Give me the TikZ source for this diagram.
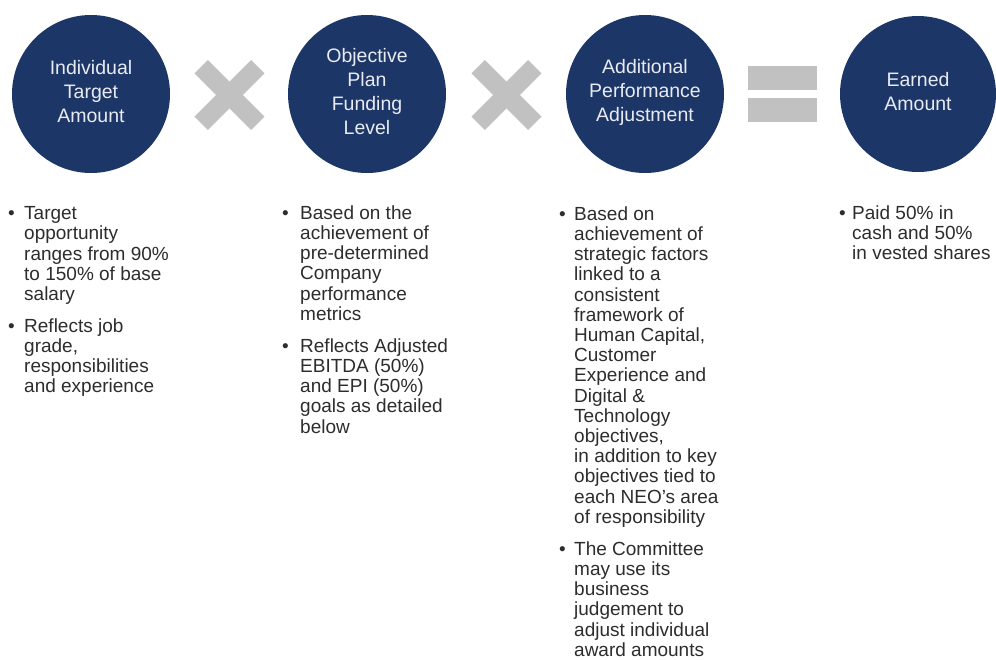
\documentclass[tikz,border=0pt]{standalone}
\usepackage{fontspec}
\setmainfont{Liberation Sans}
\definecolor{navy}{RGB}{29,54,104}
\definecolor{gry}{RGB}{193,193,193}
\definecolor{txt}{RGB}{45,45,45}
\definecolor{ctxt}{RGB}{232,235,241}
\newcommand{\tstrut}{\rule{0pt}{15pt}}
\begin{document}
\begin{tikzpicture}[x=1pt,y=-1pt,
  circ/.style={circle, fill=navy, minimum size=158pt, inner sep=0pt},
  ctext/.style={text=ctxt, font=\fontsize{19.5}{24}\selectfont, align=center, inner sep=0pt},
  body/.style={anchor=north west, inner sep=0pt, align=left, text=txt, font=\fontsize{19}{20.2}\selectfont},
  bul/.style={anchor=base west, inner sep=0pt, text=txt, font=\fontsize{19}{20.2}\selectfont},
  xbar/.style={line width=19pt, draw=gry},
  eqbar/.style={fill=gry}]
\useasboundingbox (0,0) rectangle (996,659);
\fill[white] (0,0) rectangle (996,659);

% circles
\node[circ] (c1) at (91,94) {};
\node[circ] (c2) at (367,94) {};
\node[circ] (c3) at (645,94) {};
\node[circ, minimum size=156pt] (c4) at (918,94) {};
\node[ctext] (t1) at ([yshift=2pt]c1.center) {Individual\\Target\\Amount};
\node[ctext] (t2) at ([yshift=2pt]c2.center) {Objective\\Plan\\Funding\\Level};
\node[ctext] (t3) at ([yshift=2pt]c3.center) {Additional\\Performance\\Adjustment};
\node[ctext] (t4) at ([yshift=2pt]c4.center) {Earned\\Amount};

% multiply signs
\coordinate (x1) at (229.5,95);
\coordinate (x2) at (506.5,95);
\foreach \m in {x1,x2}{
  \draw[xbar] ([shift={(-28.3,-28.3)}]\m) -- ([shift={(28.3,28.3)}]\m);
  \draw[xbar] ([shift={(-28.3,28.3)}]\m) -- ([shift={(28.3,-28.3)}]\m);
}
% equals sign
\fill[eqbar] (748,66) rectangle (817,90);
\fill[eqbar] (748,98) rectangle (817,122);

% column 1
\node[bul] (b11) at (8,219.5) {•};
\node[body] (p11) at (24,204.5) {\tstrut Target\\opportunity\\ranges from 90\%\\to 150\% of base\\salary};
\node[bul] (b12) at (8,332) {•};
\node[body] (p12) at (24,317) {\tstrut Reflects job\\grade,\\responsibilities\\and experience};

% column 2
\node[bul] (b21) at (282,219) {•};
\node[body] (p21) at (300,204) {\tstrut Based on the\\achievement of\\pre-determined\\Company\\performance\\metrics};
\node[bul] (b22) at (282,352) {•};
\node[body] (p22) at (300,337) {\tstrut Reflects Adjusted\\EBITDA (50\%)\\and EPI (50\%)\\goals as detailed\\below};

% column 3
\node[bul] (b31) at (559,220) {•};
\node[body] (p31) at (574,205) {\tstrut Based on\\achievement of\\strategic factors\\linked to a\\consistent\\framework of\\Human Capital,\\Customer\\Experience and\\Digital \&\\Technology\\objectives,\\in addition to key\\objectives tied to\\each NEO’s area\\of responsibility};
\node[bul] (b32) at (559,555) {•};
\node[body] (p32) at (574,540) {\tstrut The Committee\\may use its\\business\\judgement to\\adjust individual\\award amounts};

% column 4
\node[bul] (b41) at (839,219) {•};
\node[body] (p41) at (852,204) {\tstrut Paid 50\% in\\cash and 50\%\\in vested shares};
\end{tikzpicture}
\end{document}
